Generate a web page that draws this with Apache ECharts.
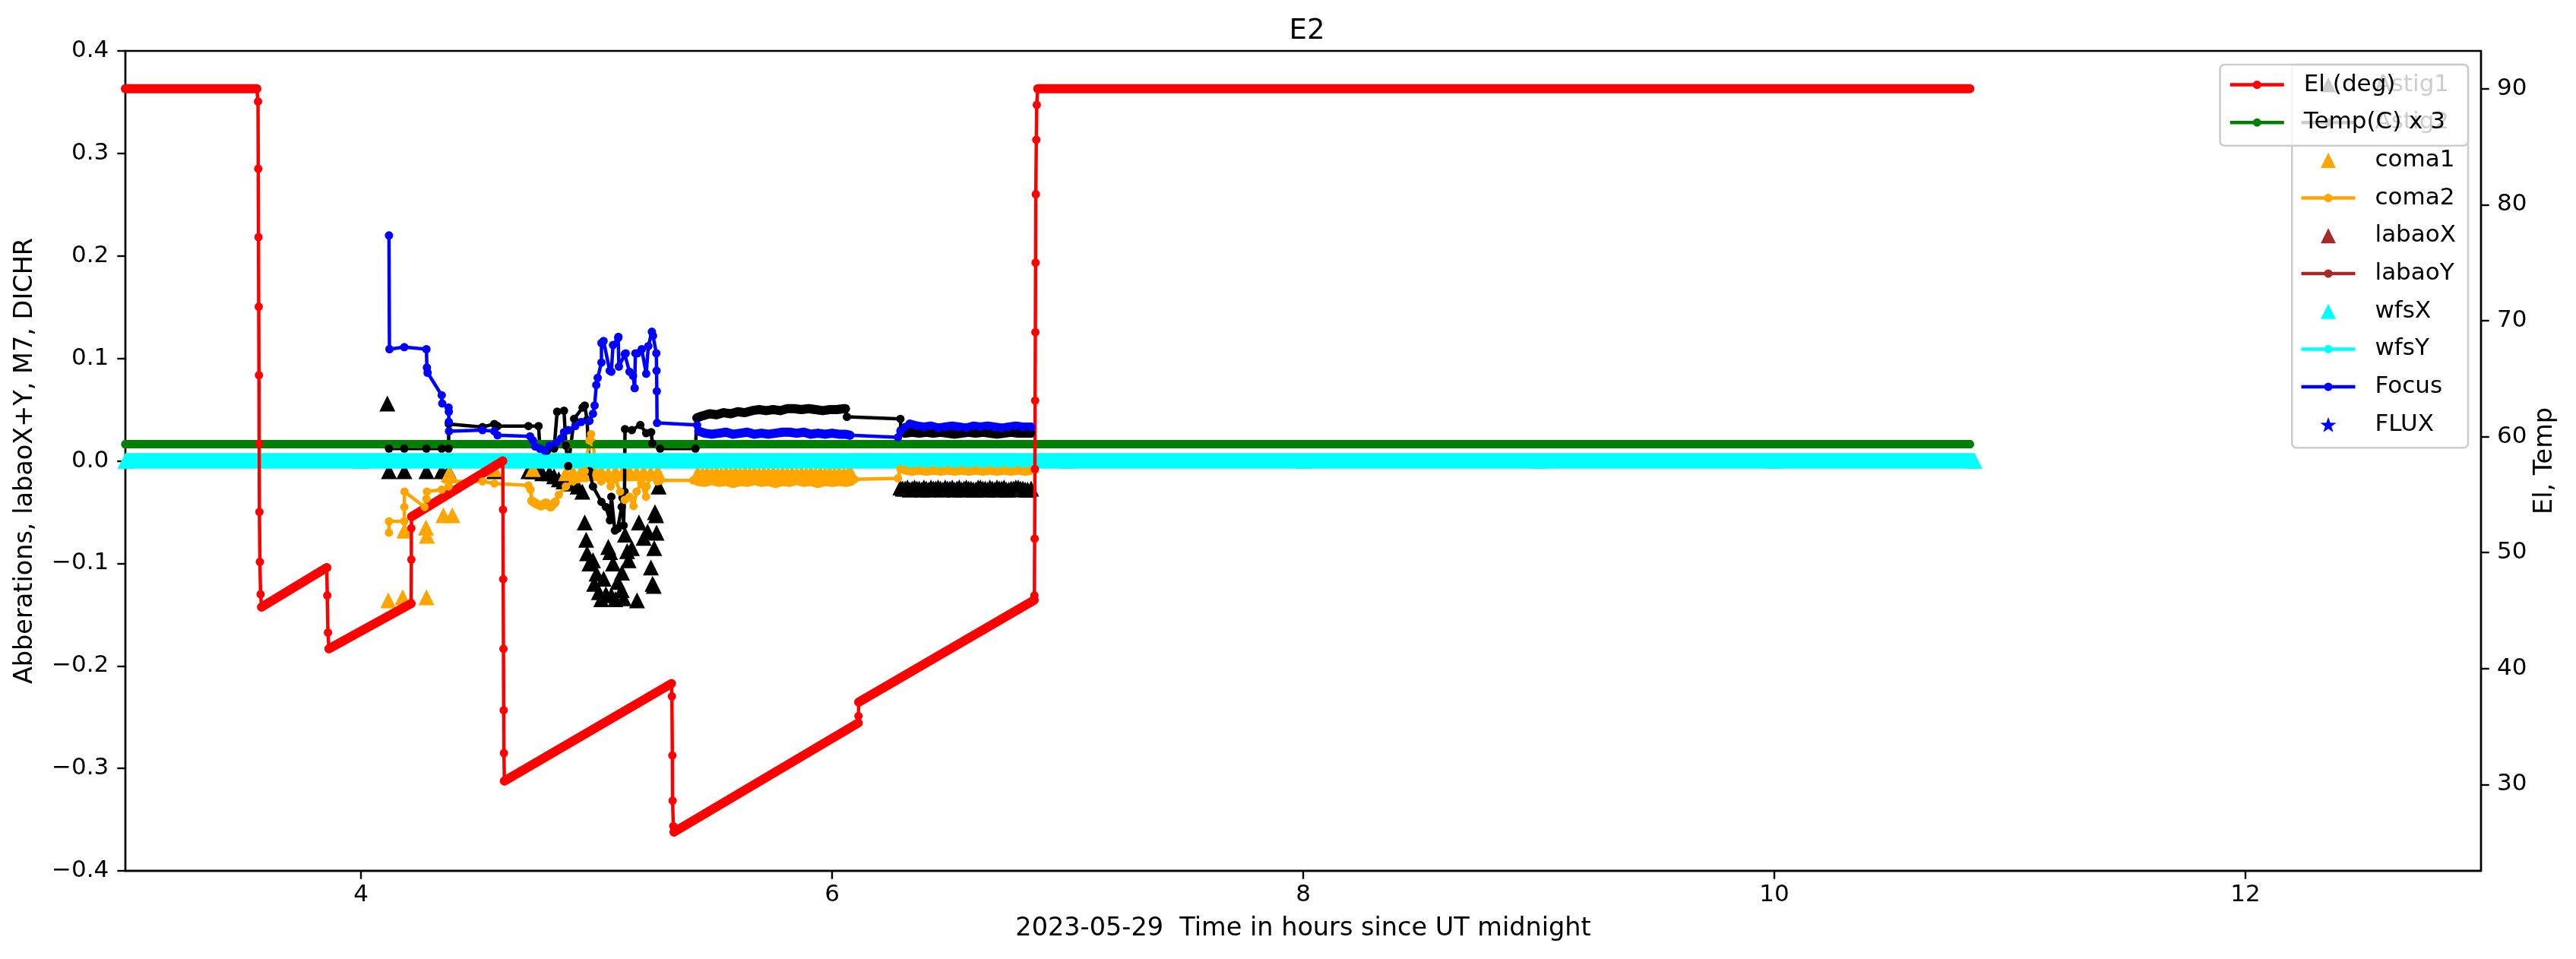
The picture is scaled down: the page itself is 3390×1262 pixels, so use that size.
<!DOCTYPE html>
<html>
<head>
<meta charset="utf-8">
<title>E2</title>
<script src="https://cdn.jsdelivr.net/npm/echarts@6/dist/echarts.min.js"></script>
<style>
  html, body { margin: 0; padding: 0; background: #fff; }
  #chart { width: 3390px; height: 1262px; }
</style>
</head>
<body>
<div id="chart"></div>
<script>
// x = hours since UT midnight, left axis = aberrations, right axis = El / Temp
var xTicks = [4, 6, 8, 10, 12];
var rightTicks = [30, 40, 50, 60, 70, 80, 90];

// El (deg): tracking runs are densely sampled, slews show single samples
var elPoints = [
  [3.00, 90.0], [3.558, 90.0],
  [3.563, 88.9], [3.564, 83.1], [3.565, 77.2], [3.566, 71.2], [3.567, 65.3], [3.568, 59.4], [3.569, 53.5], [3.571, 49.2], [3.574, 46.4],
  [3.578, 45.3], [3.855, 48.7],
  [3.857, 46.3], [3.860, 43.1],
  [3.864, 41.7], [4.213, 45.6],
  [4.214, 49.4], [4.214, 52.1],
  [4.215, 53.1], [4.602, 57.9],
  [4.603, 53.7], [4.604, 47.7], [4.605, 41.7], [4.606, 36.4], [4.607, 32.7],
  [4.609, 30.3], [5.318, 38.7],
  [5.320, 37.6], [5.322, 32.5], [5.323, 28.6], [5.326, 26.4],
  [5.329, 25.9], [6.111, 35.3],
  [6.112, 35.9],
  [6.113, 37.1], [6.858, 45.9],
  [6.859, 46.3], [6.860, 51.2], [6.861, 57.2], [6.862, 63.1], [6.863, 69.0], [6.864, 75.0], [6.865, 80.9], [6.867, 85.6], [6.869, 88.6],
  [6.873, 90.0], [10.83, 90.0]
];
var elTracking = [[3.00, 3.558], [3.578, 3.855], [3.864, 4.213], [4.215, 4.602], [4.609, 5.318], [5.329, 6.111], [6.113, 6.858], [6.873, 10.83]];

var tempX3 = [[3.00, 59.34], [4.00, 59.34], [5.00, 59.34], [6.00, 59.34], [7.00, 59.34], [8.00, 59.34], [9.00, 59.34], [10.00, 59.34], [10.83, 59.34]];
var tempRuns = [[3.00, 10.83]];

var wfsX = [[3.00, 0], [4.00, 0], [5.00, 0], [6.00, 0], [7.00, 0], [8.00, 0], [9.00, 0], [10.00, 0], [10.85, 0]];
var wfsXRuns = [[3.00, 10.85]];
var wfsY = [];
var labaoX = [];
var labaoY = [];
var flux = [];

var astig1 = [
  [4.112, 0.056],
  [4.119, -0.010], [4.184, -0.010], [4.278, -0.010], [4.343, -0.010], [4.372, -0.010],
  [4.566, -0.010], [4.711, -0.010], [4.730, -0.010], [4.754, -0.010], [4.770, -0.012],
  [4.800, -0.012], [4.820, -0.015], [4.840, -0.018], [4.860, -0.020], [4.880, -0.022], [4.900, -0.016], [4.920, -0.025], [4.940, -0.030],
  [4.950, -0.060], [4.956, -0.077], [4.960, -0.090], [4.970, -0.100], [4.985, -0.097], [4.990, -0.120], [5.000, -0.110],
  [5.010, -0.128], [5.020, -0.135], [5.030, -0.115], [5.040, -0.130], [5.050, -0.084], [5.058, -0.089], [5.063, -0.131],
  [5.070, -0.100], [5.080, -0.135], [5.090, -0.118], [5.107, -0.126], [5.108, -0.109], [5.115, -0.134], [5.121, -0.072],
  [5.130, -0.088], [5.136, -0.097], [5.150, -0.085], [5.172, -0.136], [5.180, -0.060], [5.200, -0.075], [5.217, -0.069],
  [5.231, -0.104], [5.238, -0.120], [5.243, -0.122], [5.245, -0.085], [5.248, -0.050], [5.253, -0.053], [5.255, -0.070], [5.264, -0.025],
  [6.29, -0.026], [6.30, -0.027], [6.31, -0.027], [6.32, -0.026], [6.33, -0.028], [6.34, -0.027], [6.35, -0.026], [6.36, -0.027],
  [6.37, -0.027], [6.38, -0.028], [6.39, -0.026], [6.40, -0.027], [6.41, -0.028], [6.42, -0.026], [6.43, -0.027], [6.44, -0.027],
  [6.45, -0.026], [6.46, -0.027], [6.47, -0.028], [6.48, -0.026], [6.49, -0.027], [6.50, -0.027], [6.51, -0.026], [6.52, -0.028],
  [6.53, -0.027], [6.54, -0.026], [6.55, -0.028], [6.56, -0.027], [6.57, -0.026], [6.58, -0.027], [6.59, -0.027], [6.60, -0.028],
  [6.61, -0.028], [6.62, -0.026], [6.63, -0.026], [6.64, -0.027], [6.65, -0.027], [6.66, -0.028], [6.67, -0.026], [6.68, -0.027],
  [6.69, -0.028], [6.70, -0.026], [6.71, -0.027], [6.72, -0.027], [6.73, -0.026], [6.74, -0.028], [6.75, -0.028], [6.76, -0.027],
  [6.77, -0.027], [6.78, -0.026], [6.79, -0.026], [6.80, -0.027], [6.81, -0.027], [6.82, -0.028], [6.83, -0.028], [6.845, -0.027]
];

var astig2 = [
  [4.119, 0.012], [4.184, 0.012], [4.278, 0.012], [4.343, 0.012], [4.372, 0.012], [4.373, 0.036],
  [4.516, 0.033], [4.566, 0.036], [4.580, 0.034], [4.711, 0.034], [4.754, 0.034], [4.760, 0.012],
  [4.790, 0.010], [4.820, 0.012], [4.833, 0.048], [4.862, 0.049], [4.870, 0.015], [4.880, -0.005],
  [4.905, 0.041], [4.941, 0.052], [4.950, 0.054], [4.960, 0.040], [4.970, -0.010], [4.985, -0.025],
  [5.021, -0.040], [5.040, -0.045], [5.057, -0.058], [5.063, -0.035], [5.078, -0.068], [5.090, -0.066],
  [5.107, -0.045], [5.110, -0.036], [5.115, -0.063], [5.119, -0.030], [5.121, 0.031], [5.150, 0.030],
  [5.186, 0.035], [5.211, 0.027], [5.232, 0.028], [5.237, 0.017], [5.270, 0.012], [5.420, 0.012],
  [5.426, 0.042], [5.45, 0.044], [5.48, 0.046], [5.51, 0.045], [5.54, 0.047], [5.57, 0.046], [5.60, 0.048],
  [5.63, 0.047], [5.66, 0.049], [5.69, 0.050], [5.72, 0.049], [5.75, 0.050], [5.78, 0.049], [5.81, 0.051],
  [5.84, 0.051], [5.87, 0.050], [5.90, 0.051], [5.93, 0.050], [5.96, 0.049], [5.99, 0.050], [6.02, 0.050],
  [6.05, 0.051], [6.057, 0.051], [6.063, 0.043], [6.290, 0.041], [6.292, 0.030],
  [6.31, 0.027], [6.34, 0.028], [6.37, 0.027], [6.40, 0.028], [6.43, 0.027], [6.46, 0.028], [6.49, 0.027],
  [6.52, 0.026], [6.55, 0.027], [6.58, 0.028], [6.61, 0.027], [6.64, 0.028], [6.67, 0.027], [6.70, 0.026],
  [6.73, 0.027], [6.76, 0.028], [6.79, 0.027], [6.82, 0.027], [6.845, 0.027]
];
var astig2Runs = [[5.426, 6.057], [6.31, 6.845]];

var coma1 = [
  [4.116, -0.136], [4.177, -0.133], [4.278, -0.133], [4.184, -0.068], [4.276, -0.065], [4.280, -0.073],
  [4.350, -0.053], [4.388, -0.053], [4.372, -0.013], [4.380, -0.014], [4.566, -0.008], [4.730, -0.008],
  [4.87, -0.012], [4.90, -0.011], [4.93, -0.013], [4.96, -0.011], [4.99, -0.012], [5.02, -0.011], [5.05, -0.013],
  [5.08, -0.011], [5.11, -0.012], [5.14, -0.011], [5.17, -0.012], [5.20, -0.011], [5.23, -0.012], [5.26, -0.011],
  [5.43, -0.012], [5.45, -0.013], [5.47, -0.012], [5.49, -0.013], [5.51, -0.012], [5.53, -0.013], [5.55, -0.012],
  [5.57, -0.013], [5.59, -0.012], [5.61, -0.013], [5.63, -0.012], [5.65, -0.013], [5.67, -0.012], [5.69, -0.013],
  [5.71, -0.012], [5.73, -0.013], [5.75, -0.012], [5.77, -0.013], [5.79, -0.012], [5.81, -0.013], [5.83, -0.012],
  [5.85, -0.013], [5.87, -0.012], [5.89, -0.013], [5.91, -0.012], [5.93, -0.013], [5.95, -0.012], [5.97, -0.013],
  [5.99, -0.012], [6.01, -0.013], [6.03, -0.012], [6.05, -0.013], [6.07, -0.012], [6.08, -0.012],
  [6.31, -0.004], [6.34, -0.004], [6.37, -0.004], [6.40, -0.004], [6.43, -0.004], [6.46, -0.004], [6.49, -0.004],
  [6.52, -0.004], [6.55, -0.004], [6.58, -0.004], [6.61, -0.004], [6.64, -0.004], [6.67, -0.004], [6.70, -0.004],
  [6.73, -0.004], [6.76, -0.004], [6.79, -0.004], [6.82, -0.004], [6.845, -0.004]
];

var coma2 = [
  [4.119, -0.070], [4.119, -0.059], [4.184, -0.059], [4.184, -0.045], [4.185, -0.030], [4.270, -0.045],
  [4.278, -0.037], [4.280, -0.030], [4.343, -0.028], [4.372, -0.025], [4.375, -0.020], [4.516, -0.020],
  [4.566, -0.022], [4.711, -0.024], [4.720, -0.028], [4.725, -0.039], [4.745, -0.042], [4.765, -0.044],
  [4.785, -0.041], [4.805, -0.045], [4.825, -0.040], [4.840, -0.033], [4.870, -0.025], [4.900, -0.020],
  [4.920, -0.018], [4.950, -0.010], [4.970, 0.020], [4.977, 0.026], [4.985, 0.018], [5.000, -0.012],
  [5.020, -0.020], [5.040, -0.015], [5.060, -0.025], [5.080, -0.018], [5.100, -0.030], [5.120, -0.038],
  [5.140, -0.035], [5.157, -0.044], [5.170, -0.030], [5.190, -0.022], [5.210, -0.035], [5.213, -0.025],
  [5.230, -0.015], [5.258, -0.020], [5.270, -0.019], [5.410, -0.019],
  [5.43, -0.020], [5.46, -0.021], [5.49, -0.019], [5.52, -0.021], [5.55, -0.020], [5.58, -0.022], [5.61, -0.020],
  [5.64, -0.021], [5.67, -0.019], [5.70, -0.021], [5.73, -0.020], [5.76, -0.022], [5.79, -0.020], [5.82, -0.021],
  [5.85, -0.019], [5.88, -0.021], [5.91, -0.020], [5.94, -0.022], [5.97, -0.020], [6.00, -0.021], [6.03, -0.020],
  [6.06, -0.021], [6.08, -0.020], [6.095, -0.018], [6.280, -0.017], [6.290, -0.008],
  [6.31, -0.009], [6.34, -0.010], [6.37, -0.009], [6.40, -0.010], [6.43, -0.009], [6.46, -0.010], [6.49, -0.009],
  [6.52, -0.010], [6.55, -0.009], [6.58, -0.010], [6.61, -0.009], [6.64, -0.010], [6.67, -0.009], [6.70, -0.010],
  [6.73, -0.009], [6.76, -0.010], [6.79, -0.009], [6.82, -0.010], [6.846, -0.009]
];
var coma2Runs = [[4.725, 4.825], [5.43, 6.08], [6.31, 6.846]];

var focus = [
  [4.119, 0.220], [4.121, 0.109], [4.184, 0.111], [4.278, 0.109], [4.280, 0.091], [4.283, 0.086],
  [4.343, 0.064], [4.345, 0.056], [4.372, 0.052], [4.373, 0.048], [4.373, 0.038], [4.374, 0.029],
  [4.516, 0.030], [4.566, 0.029], [4.580, 0.025], [4.718, 0.024], [4.730, 0.020], [4.740, 0.014],
  [4.760, 0.012], [4.780, 0.010], [4.800, 0.015], [4.830, 0.018], [4.850, 0.022], [4.862, 0.028],
  [4.880, 0.030], [4.910, 0.034], [4.935, 0.038], [4.970, 0.039], [4.985, 0.046], [4.992, 0.054],
  [4.999, 0.074], [5.005, 0.081], [5.021, 0.096], [5.021, 0.115], [5.030, 0.117], [5.056, 0.088],
  [5.063, 0.087], [5.070, 0.113], [5.092, 0.120], [5.093, 0.121], [5.095, 0.092], [5.120, 0.104],
  [5.124, 0.105], [5.140, 0.087], [5.155, 0.083], [5.162, 0.071], [5.165, 0.105], [5.174, 0.105],
  [5.192, 0.109], [5.211, 0.085], [5.220, 0.112], [5.235, 0.126], [5.240, 0.122], [5.254, 0.105],
  [5.255, 0.088], [5.256, 0.068], [5.257, 0.037], [5.427, 0.035], [5.434, 0.029],
  [5.46, 0.027], [5.49, 0.026], [5.52, 0.027], [5.55, 0.028], [5.58, 0.026], [5.61, 0.027], [5.64, 0.028],
  [5.67, 0.026], [5.70, 0.027], [5.73, 0.026], [5.76, 0.027], [5.79, 0.028], [5.82, 0.028], [5.85, 0.027],
  [5.88, 0.028], [5.91, 0.026], [5.94, 0.027], [5.97, 0.026], [6.00, 0.027], [6.03, 0.026], [6.06, 0.026],
  [6.076, 0.025], [6.280, 0.023], [6.290, 0.029], [6.310, 0.033], [6.330, 0.036],
  [6.36, 0.034], [6.39, 0.033], [6.42, 0.034], [6.45, 0.032], [6.48, 0.033], [6.51, 0.034], [6.54, 0.033],
  [6.57, 0.032], [6.60, 0.034], [6.63, 0.033], [6.66, 0.034], [6.69, 0.033], [6.72, 0.032], [6.75, 0.033],
  [6.78, 0.034], [6.81, 0.033], [6.845, 0.033]
];
var focusRuns = [[5.434, 6.076], [6.33, 6.845]];

var FONT = 'DejaVu Sans';
// dot marker with empty margin so the legend draws it at the same size as the plot
var DOT = 'path://M0,0M16,16M2.5,8A5.5,5.5,0,1,1,13.5,8A5.5,5.5,0,1,1,2.5,8Z';
var TRI = 'path://M10,0L20,20L0,20Z';
var STAR = 'path://M10,0L12.35,6.76L19.51,6.91L13.8,11.24L15.88,18.09L10,14L4.12,18.09L6.2,11.24L0.49,6.91L7.65,6.76Z';

function lineSeries(name, data, color, axis) {
  return {
    name: name, type: 'line', data: data, yAxisIndex: axis || 0,
    symbol: DOT, symbolSize: 16, silent: true, clip: true,
    itemStyle: { color: color },
    lineStyle: { color: color, width: 4.5 }
  };
}

function markerSeries(name, data, color, symbol, size) {
  return {
    name: name, type: 'scatter', data: data, yAxisIndex: 0,
    symbol: symbol, symbolSize: size || 21, silent: true, clip: true,
    itemStyle: { color: color, opacity: 1 }
  };
}

// dense sampling drawn as one thick stroke through the run
function bandSeries(points, runs, color, width, axis, cap) {
  var data = [];
  runs.forEach(function (r, k) {
    if (k > 0) data.push([r[0], '-']);
    points.forEach(function (p) {
      if (p[0] >= r[0] && p[0] <= r[1]) data.push(p);
    });
  });
  return {
    type: 'line', data: data, yAxisIndex: axis, symbol: 'none', showSymbol: false,
    connectNulls: false, silent: true, clip: true,
    lineStyle: { color: color, width: width, cap: cap, join: 'round' },
    itemStyle: { color: color }
  };
}

function fmtLeft(v) {
  var r = Math.round(v * 10) / 10;
  return (r < 0 ? '\u2212' : '') + Math.abs(r).toFixed(1);
}

var nameText = { fontFamily: FONT, fontSize: 33.5, color: '#000' };
var legendText = { fontFamily: FONT, fontSize: 31, lineHeight: 31, color: '#000', padding: [0, 0, 0, 21] };
var legendBox = {
  orient: 'vertical', right: 142, top: 85,
  itemWidth: 71, itemHeight: 20, itemGap: 18.7,
  backgroundColor: 'rgba(255,255,255,0.8)', borderColor: '#cccccc', borderWidth: 2.5, borderRadius: 6,
  selectedMode: false, textStyle: legendText,
  lineStyle: { width: 4.5 }
};

var chart = echarts.init(document.getElementById('chart'));
chart.setOption({
  animation: false,
  backgroundColor: '#ffffff',
  textStyle: { fontFamily: FONT },
  title: {
    text: 'E2', left: 1715, top: 18, textAlign: 'center',
    textStyle: { fontFamily: FONT, fontSize: 37, fontWeight: 'normal', color: '#000' }
  },
  grid: {
    left: 165, right: 125, top: 67, bottom: 116,
    show: true, borderColor: '#000', borderWidth: 2.4, backgroundColor: 'transparent',
    outerBoundsMode: 'none'
  },
  legend: [
    Object.assign({}, legendBox, {
      z: 5, padding: [11, 16, 15, 10],
      data: ['Astig1', 'Astig2', 'coma1', 'coma2', 'labaoX', 'labaoY', 'wfsX', 'wfsY', 'Focus', 'FLUX']
    }),
    Object.assign({}, legendBox, {
      z: 6, padding: [11, 30, 15, 11],
      data: ['El (deg)', 'Temp(C) x 3']
    })
  ],
  xAxis: {
    type: 'value', min: 3, max: 13,
    name: '2023-05-29  Time in hours since UT midnight', nameLocation: 'middle', nameGap: 59,
    nameMoveOverlap: false,
    nameTextStyle: nameText,
    axisLine: { show: true, onZero: false, lineStyle: { color: '#000', width: 2.4 } },
    axisTick: { show: true, length: 10.7, customValues: xTicks, lineStyle: { color: '#000', width: 2.4 } },
    axisLabel: { customValues: xTicks, margin: 16, fontFamily: FONT, fontSize: 31, color: '#000' },
    splitLine: { show: false }
  },
  yAxis: [
    {
      type: 'value', position: 'left', min: -0.4, max: 0.4, interval: 0.1,
      name: 'Abberations, labaoX+Y, M7, DICHR', nameLocation: 'middle', nameRotate: 90, nameGap: 115,
      nameMoveOverlap: false,
      nameTextStyle: nameText,
      axisLine: { show: true, onZero: false, lineStyle: { color: '#000', width: 2.4 } },
      axisTick: { show: true, length: 10.7, lineStyle: { color: '#000', width: 2.4 } },
      axisLabel: { margin: 21.7, formatter: fmtLeft, fontFamily: FONT, fontSize: 31, color: '#000' },
      splitLine: { show: false }
    },
    {
      type: 'value', position: 'right', min: 22.55, max: 93.26,
      name: 'El, Temp', nameLocation: 'middle', nameRotate: 90, nameGap: 67,
      nameMoveOverlap: false,
      nameTextStyle: nameText,
      axisLine: { show: true, onZero: false, lineStyle: { color: '#000', width: 2.4 } },
      axisTick: { show: true, length: 10.7, customValues: rightTicks, lineStyle: { color: '#000', width: 2.4 } },
      axisLabel: { customValues: rightTicks, margin: 21, fontFamily: FONT, fontSize: 31, color: '#000' },
      splitLine: { show: false }
    }
  ],
  series: [
    markerSeries('Astig1', astig1, '#000000', TRI),
    bandSeries(astig2, astig2Runs, '#000000', 12, 0, 'round'),
    lineSeries('Astig2', astig2, '#000000'),
    markerSeries('coma1', coma1, '#FFA500', TRI),
    bandSeries(coma2, coma2Runs, '#FFA500', 12, 0, 'round'),
    lineSeries('coma2', coma2, '#FFA500'),
    markerSeries('labaoX', labaoX, '#A52A2A', TRI),
    lineSeries('labaoY', labaoY, '#A52A2A'),
    bandSeries(wfsX, wfsXRuns, '#00FFFF', 20.5, 0, 'butt'),
    markerSeries('wfsX', wfsX, '#00FFFF', TRI),
    lineSeries('wfsY', wfsY, '#00FFFF'),
    bandSeries(focus, focusRuns, '#0000FF', 12, 0, 'round'),
    lineSeries('Focus', focus, '#0000FF'),
    markerSeries('FLUX', flux, '#0000FF', STAR, 18),
    bandSeries(tempX3, tempRuns, '#008000', 11, 1, 'round'),
    lineSeries('Temp(C) x 3', tempX3, '#008000', 1),
    bandSeries(elPoints, elTracking, '#FF0000', 12, 1, 'round'),
    lineSeries('El (deg)', elPoints, '#FF0000', 1)
  ]
});
</script>
</body>
</html>
